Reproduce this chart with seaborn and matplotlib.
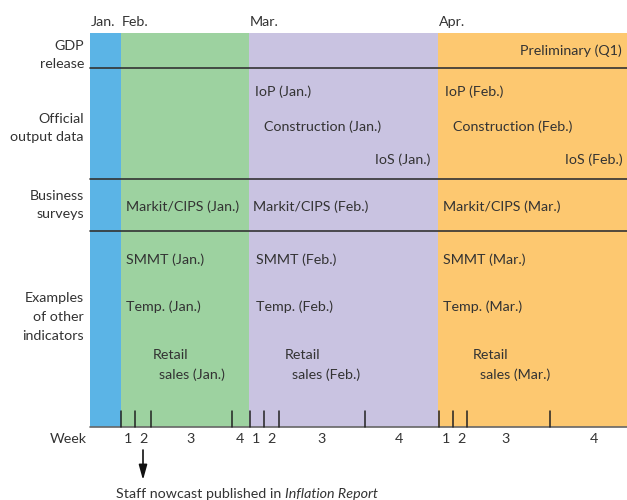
import matplotlib
matplotlib.use("Agg")
import matplotlib.pyplot as plt
import seaborn as sns

# month bands (x in timeline units, left edge -> right edge)
months = ["Jan.", "Feb.", "Mar.", "Apr."]
month_start = [90, 121, 249, 438]
month_end = [121, 249, 438, 627]
month_colors = ["#5BB4E6", "#9DD2A0", "#C9C3E1", "#FDC870"]

# week ticks and labels
week_ticks = [121, 135, 151, 232, 250, 264, 279, 365, 439, 453, 467, 550]
week_labels = ["1", "2", "3", "4", "1", "2", "3", "4", "1", "2", "3", "4"]
week_label_x = [128, 143, 191, 240, 256, 271, 322, 399, 446, 461, 506, 594]

# rows
row_names = ["GDP\nrelease", "Official\noutput data", "Business\nsurveys",
             "Examples\nof other\nindicators"]
row_label_y = [55, 128, 205, 317]
row_dividers = [68, 179, 231]

# releases: (text, x, y, alignment)
release_text = [
    "Preliminary (Q1)",
    "IoP (Jan.)", "Construction (Jan.)", "IoS (Jan.)",
    "IoP (Feb.)", "Construction (Feb.)", "IoS (Feb.)",
    "Markit/CIPS (Jan.)", "Markit/CIPS (Feb.)", "Markit/CIPS (Mar.)",
    "SMMT (Jan.)", "Temp. (Jan.)", "Retail", "sales (Jan.)",
    "SMMT (Feb.)", "Temp. (Feb.)", "Retail", "sales (Feb.)",
    "SMMT (Mar.)", "Temp. (Mar.)", "Retail", "sales (Mar.)",
]
release_x = [622,
             255, 264, 430,
             445, 453, 623,
             126, 253, 443,
             126, 126, 153, 159,
             256, 256, 285, 292,
             443, 443, 473, 480]
release_y = [49,
             90, 125, 158,
             90, 125, 158,
             205, 205, 205,
             258, 305, 353, 373,
             258, 305, 353, 373,
             258, 305, 353, 373]
release_ha = ["right",
              "left", "left", "right",
              "left", "left", "right",
              "left", "left", "left",
              "left", "left", "left", "left",
              "left", "left", "left", "left",
              "left", "left", "left", "left"]

top, axis_y, tick_top = 33, 427, 411
text_color = "#333333"
fs = 10.3
dy = 2  # small baseline nudge for va="center"

sns.set_theme(style="white")
plt.rcParams["font.family"] = ["Lato", "DejaVu Sans"]

fig = plt.figure(figsize=(6.27, 5.0), dpi=100)
ax = fig.add_axes([0, 0, 1, 1])
ax.set_xlim(0, 627)
ax.set_ylim(500, 0)
ax.axis("off")

for name, x0, x1, c in zip(months, month_start, month_end, month_colors):
    ax.fill_between([x0, x1], top, axis_y, color=c, lw=0)
    ax.text(x0 + 1, 20 + dy, name, ha="left", va="center", fontsize=fs,
            color=text_color)

for y in row_dividers:
    ax.plot([90, 627], [y, y], color="#333333", lw=1.2)

for name, y in zip(row_names, row_label_y):
    ax.text(84, y, name, ha="right", va="center", fontsize=fs, color=text_color,
            linespacing=1.65)

for t, x, y, ha in zip(release_text, release_x, release_y, release_ha):
    ax.text(x, y + dy, t, ha=ha, va="center", fontsize=fs, color=text_color)

# week axis
ax.plot([90, 627], [axis_y, axis_y], color="#666666", lw=1.2)
for x in week_ticks:
    ax.plot([x, x], [tick_top, axis_y], color="#222222", lw=1.1)
for x, lab in zip(week_label_x, week_labels):
    ax.text(x, 437 + dy, lab, ha="center", va="center", fontsize=fs,
            color=text_color)
ax.text(68, 437 + dy, "Week", ha="center", va="center", fontsize=fs,
        color=text_color)

# nowcast arrow
ax.annotate("", xy=(143, 480), xytext=(143, 450),
            arrowprops=dict(arrowstyle="-|>,head_length=0.9,head_width=0.25",
                            color="#111111", lw=1.2, mutation_scale=10,
                            shrinkA=0, shrinkB=0))
plain = ax.text(116, 492 + dy, "Staff nowcast published in", ha="left",
                va="center", fontsize=fs, color=text_color)
fig.canvas.draw()
bb = plain.get_window_extent()
x_end = ax.transData.inverted().transform((bb.x1, bb.y0))[0]
ax.text(x_end + 4, 492 + dy, "Inflation Report", ha="left", va="center",
        fontsize=fs, color=text_color, style="italic")

fig.savefig("out.png", dpi=100)
